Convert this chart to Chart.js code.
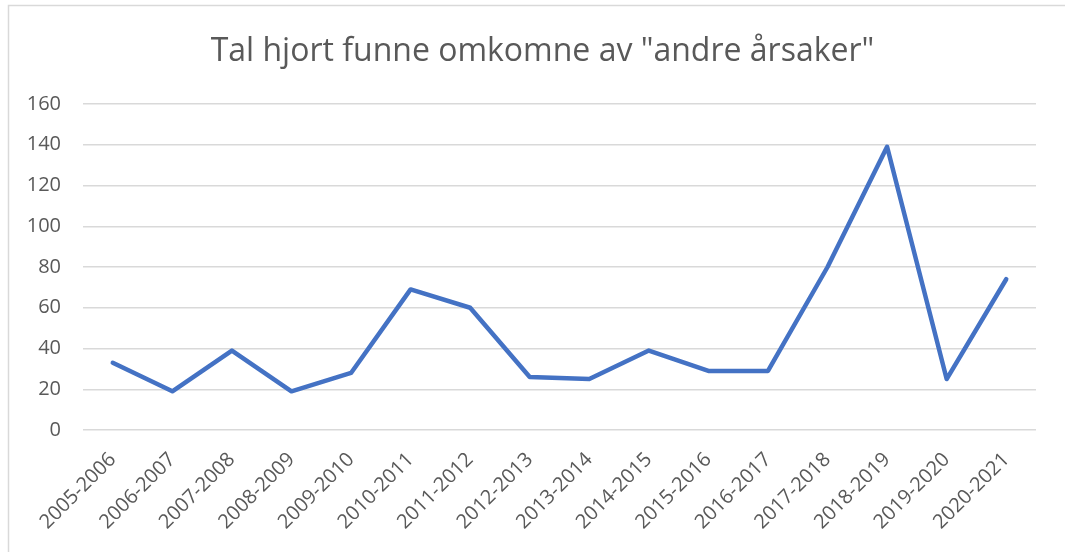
<!DOCTYPE html>
<html>
<head>
<meta charset="utf-8">
<script src="https://cdn.jsdelivr.net/npm/chart.js@4"></script>
<style>
  html, body { margin: 0; padding: 0; background: #ffffff; }
  #wrap { width: 1065px; height: 552px; position: relative; }
</style>
</head>
<body>
<div id="wrap"><canvas id="c" width="1065" height="552"></canvas></div>
<script>
const chartTitle = 'Tal hjort funne omkomne av "andre årsaker"';
const seasons = ['2005-2006','2006-2007','2007-2008','2008-2009','2009-2010','2010-2011','2011-2012','2012-2013','2013-2014','2014-2015','2015-2016','2016-2017','2017-2018','2018-2019','2019-2020','2020-2021'];
const deerFound = [33, 19, 39, 19, 28, 69, 60, 26, 25, 39, 29, 29, 80, 139, 25, 74];
const yTickValues = [0, 20, 40, 60, 80, 100, 120, 140, 160];

const frameAndTitle = {
  id: 'frameAndTitle',
  beforeDraw(chart) {
    const ctx = chart.ctx;
    ctx.save();
    ctx.fillStyle = '#ffffff';
    ctx.fillRect(0, 0, chart.width, chart.height);
    ctx.strokeStyle = '#d9d9d9';
    ctx.lineWidth = 1.5;
    ctx.strokeRect(8.5, 5.5, chart.width + 20, chart.height + 20);
    ctx.restore();
  },
  afterDraw(chart) {
    const ctx = chart.ctx;
    ctx.save();
    ctx.fillStyle = '#595959';
    ctx.font = 'normal 32px "Open Sans"';
    ctx.textAlign = 'center';
    ctx.textBaseline = 'alphabetic';
    ctx.fillText(chartTitle, 542.5, 61);
    ctx.restore();
  }
};

new Chart(document.getElementById('c'), {
  type: 'line',
  data: {
    labels: seasons,
    datasets: [{
      data: deerFound,
      borderColor: '#4472C4',
      borderWidth: 4.5,
      pointRadius: 0,
      pointHoverRadius: 0,
      tension: 0,
      fill: false,
      borderJoinStyle: 'round',
      borderCapStyle: 'round'
    }]
  },
  options: {
    responsive: false,
    animation: false,
    devicePixelRatio: 1,
    layout: { padding: { left: 0, right: 29, top: 104, bottom: 0 } },
    plugins: {
      legend: { display: false },
      tooltip: { enabled: false },
      title: { display: false }
    },
    scales: {
      x: {
        offset: true,
        grid: { display: false },
        border: { display: false },
        ticks: {
          color: '#595959',
          font: { family: 'Open Sans', size: 20 },
          minRotation: 45,
          maxRotation: 45,
          autoSkip: false,
          padding: 10
        },
        afterFit(scale) { scale.height = 122; }
      },
      y: {
        min: 0,
        max: 160,
        afterBuildTicks(scale) { scale.ticks = yTickValues.map(v => ({ value: v })); },
        grid: { color: '#d9d9d9', lineWidth: 1.5, drawTicks: false },
        border: { display: false },
        ticks: {
          color: '#595959',
          font: { family: 'Open Sans', size: 20 },
          padding: 22
        },
        afterFit(scale) { scale.width = 83; }
      }
    }
  },
  plugins: [frameAndTitle]
});
</script>
</body>
</html>
